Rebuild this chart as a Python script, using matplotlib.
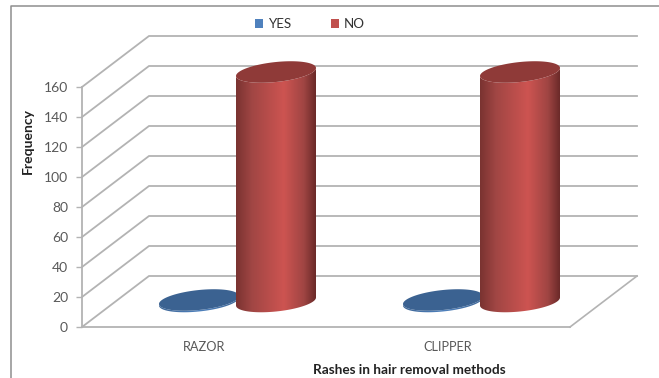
import numpy as np
import matplotlib.pyplot as plt
from matplotlib.colors import LinearSegmentedColormap
from matplotlib.patches import Patch, PathPatch, Polygon
from matplotlib.path import Path

plt.rcParams["font.family"] = ["Lato", "DejaVu Sans"]

categories = ["RAZOR", "CLIPPER"]
yes_values = [1, 1]
no_values = [153, 153]
y_ticks = [0, 20, 40, 60, 80, 100, 120, 140, 160]

W, H = 659, 378
# one x unit is one category, one y unit is one on the frequency scale
X_PX = 244
Y_PX = 1.5
DEPTH_X = 67 / X_PX
DEPTH_Y = 51 / Y_PX

fig = plt.figure(figsize=(W / 100, H / 100), dpi=100)
ax = fig.add_axes([0, 0, 1, 1])
ax.set_xlim(-82 / X_PX, (W - 82) / X_PX)
ax.set_ylim((327 - H) / Y_PX, 327 / Y_PX)

grid = "#b3b3b3"

# back wall and side wall lines
for v in y_ticks:
    ax.plot([0, DEPTH_X, 2 + DEPTH_X], [v, v + DEPTH_Y, v + DEPTH_Y],
            color=grid, lw=1.3, zorder=1, solid_joinstyle="miter")
ax.plot([2, 2 + DEPTH_X], [0, DEPTH_Y], color=grid, lw=1.2, zorder=1)

red_cmap = LinearSegmentedColormap.from_list(
    "red", [(0, "#7a3331"), (0.2, "#a14644"), (0.6, "#cd5451"),
            (0.85, "#a04543"), (1, "#6b2a29")])
blue_cmap = LinearSegmentedColormap.from_list("blue", ["#3f6797", "#4f81bd", "#3f6797"])


def ellipse_xy(cx, cy, t):
    # tilted ellipse, right end sits a bit higher than the left
    x = cx + 40 / X_PX * np.cos(t)
    y = cy + (4 * np.cos(t) + 10 * np.sin(t)) / Y_PX
    return x, y


def cylinder(cx, value, cmap, top_color, zorder):
    base = DEPTH_Y / 2
    t = np.linspace(0, 2 * np.pi, 120)
    low = np.linspace(np.pi, 2 * np.pi, 60)
    bx, by = ellipse_xy(cx, base, low)
    tx, ty = ellipse_xy(cx, base + value, low[::-1])
    side = np.column_stack([np.r_[bx, tx], np.r_[by, ty]])
    poly = Polygon(side, closed=True, fc="none", ec="none", transform=ax.transData)
    ax.add_patch(poly)
    img = ax.imshow(np.linspace(0, 1, 200).reshape(1, -1), cmap=cmap, aspect="auto",
                    extent=[cx - 40 / X_PX, cx + 40 / X_PX, -20, base + value + 10],
                    zorder=zorder, interpolation="bilinear")
    img.set_clip_path(poly)
    ex, ey = ellipse_xy(cx, base + value, t)
    top = Path(np.column_stack([ex, ey]), closed=True)
    ax.add_patch(PathPatch(top, fc=top_color, ec="none", zorder=zorder + 0.1))


for i in range(len(categories)):
    mid = i + 0.5 + DEPTH_X / 2
    cylinder(mid - 38.5 / X_PX, yes_values[i], blue_cmap, "#3b6291", 2)
    cylinder(mid + 38.5 / X_PX, no_values[i], red_cmap, "#8f3a38", 3)

ax.set_xlim(-82 / X_PX, (W - 82) / X_PX)
ax.set_ylim((327 - H) / Y_PX, 327 / Y_PX)

# front axes
for side in ["top", "right"]:
    ax.spines[side].set_visible(False)
ax.patch.set_visible(False)
ax.spines["left"].set_position(("data", 0))
ax.spines["left"].set_bounds(0, 160)
ax.spines["bottom"].set_position(("data", 0))
ax.spines["bottom"].set_bounds(0, 2)
for side in ["left", "bottom"]:
    ax.spines[side].set_color(grid)
    ax.spines[side].set_linewidth(1.3)
ax.set_yticks(y_ticks)
ax.tick_params(axis="y", length=4, width=1, color=grid, labelcolor="#595959",
               labelsize=10, pad=6)
ax.set_xticks([0.5, 1.5], categories)
ax.tick_params(axis="x", length=0, labelcolor="#595959", labelsize=9.2, pad=10)

ax.set_ylabel("Frequency", fontweight="bold", fontsize=10, color="#222222")
ax.yaxis.set_label_coords(28 / W, 1 - 141 / H)
ax.set_xlabel("Rashes in hair removal methods", fontweight="bold", fontsize=9.8, color="#222222")
ax.xaxis.set_label_coords(409 / W, 1 - 370 / H)
ax.xaxis.label.set_va("center")
ax.yaxis.label.set_va("center")

handles = [Patch(fc="#4f81bd", label="YES"), Patch(fc="#c0504d", label="NO")]
ax.legend(handles=handles, ncol=2, frameon=False, loc="center",
          bbox_to_anchor=(310 / W, 1 - 24.5 / H), fontsize=9.6, labelcolor="#333333",
          handlelength=0.62, handleheight=0.62, handletextpad=0.35, columnspacing=3.0)

# chart frame, open at the right and bottom edges
fig.add_artist(plt.Line2D([10.5 / W, 10.5 / W, 1], [0, 1 - 5.5 / H, 1 - 5.5 / H],
                          color="#8e8e8e", lw=1.1))

fig.savefig("out.png", dpi=100)
